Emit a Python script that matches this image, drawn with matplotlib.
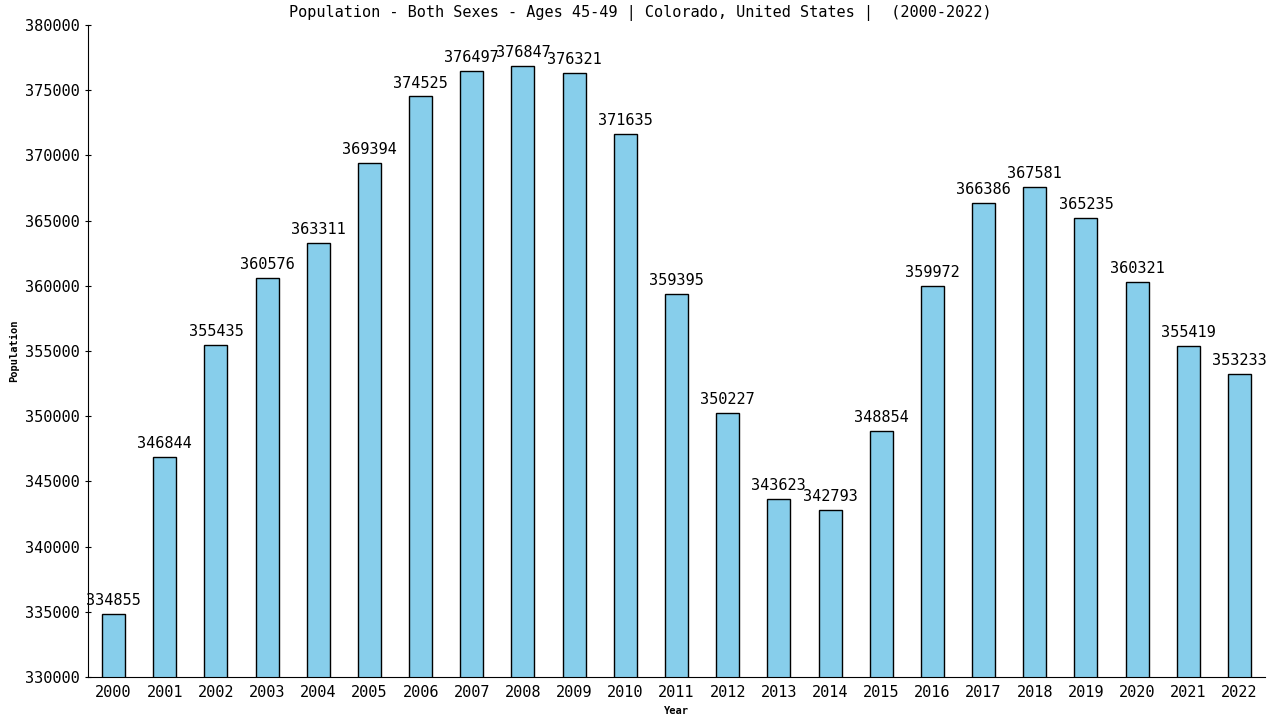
import matplotlib.pyplot as plt

years = list(range(2000, 2023))
population = [334855, 346844, 355435, 360576, 363311, 369394, 374525, 376497,
              376847, 376321, 371635, 359395, 350227, 343623, 342793, 348854,
              359972, 366386, 367581, 365235, 360321, 355419, 353233]
labels = [str(y) for y in years]

plt.rcParams['font.family'] = 'DejaVu Sans Mono'

fig = plt.figure(figsize=(12.8, 7.2), dpi=100)
ax = fig.add_axes([88 / 1280, 43 / 720, (1265 - 88) / 1280, (677 - 25) / 720])

x = list(range(len(years)))
bars = ax.bar(x, population, width=0.45, color='skyblue', edgecolor='black', linewidth=1)
for xi, v in zip(x, population):
    ax.text(xi, v + 450, str(v), ha='center', va='bottom', fontsize=11)

ax.set_xlim(-0.5, 22.5)
ax.set_ylim(330000, 380000)
ax.set_yticks(range(330000, 380001, 5000))
ax.set_yticklabels([str(t) for t in range(330000, 380001, 5000)], fontsize=11)
ax.set_xticks(x)
ax.set_xticklabels(labels, fontsize=11)
ax.spines['top'].set_visible(False)
ax.spines['right'].set_visible(False)
ax.tick_params(axis='x', length=0, pad=6)
ax.tick_params(axis='y', length=5, direction='inout')

ax.set_xlabel('Year', fontsize=7.5, fontweight='bold', labelpad=4)
ax.set_ylabel('Population', fontsize=7.5, fontweight='bold', labelpad=4)
fig.text(0.5, 0.982, 'Population - Both Sexes - Ages 45-49 | Colorado, United States |  (2000-2022)',
         ha='center', va='center', fontsize=11)

plt.savefig('out.png', dpi=100)
plt.close()
